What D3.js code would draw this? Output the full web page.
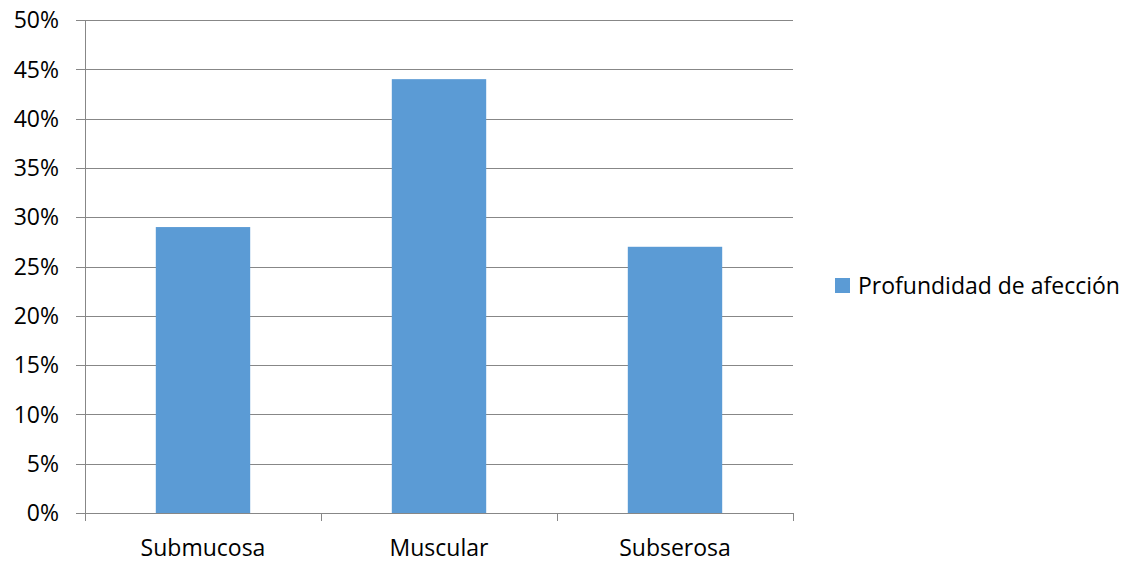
<!DOCTYPE html>
<html>
<head>
<meta charset="utf-8">
<script src="https://cdn.jsdelivr.net/npm/d3@7"></script>
<style>
  html, body { margin: 0; padding: 0; background: #fff; }
  svg { display: block; font-family: "Open Sans", "Noto Sans", sans-serif; }
</style>
</head>
<body>
<svg id="chart" width="1128" height="577"></svg>
<script>
// Depth of involvement by layer
const categories = ["Submucosa", "Muscular", "Subserosa"];
const values = [0.29, 0.44, 0.27];
const yTicks = [0, 0.05, 0.10, 0.15, 0.20, 0.25, 0.30, 0.35, 0.40, 0.45, 0.50];
const seriesName = "Profundidad de afección";

const svg = d3.select("#chart");
const plot = { left: 85, right: 793, top: 20, bottom: 513 };
const gridColor = "#878787";
const barColor = "#5B9BD5";
const fontSize = 23;

const x = d3.scaleBand()
  .domain(categories)
  .range([plot.left, plot.right])
  .paddingInner(0.6)
  .paddingOuter(0.3);

const y = d3.scaleLinear()
  .domain([0, 0.5])
  .range([plot.bottom, plot.top]);

// Horizontal gridlines with left tick marks
svg.append("g")
  .selectAll("line")
  .data(yTicks)
  .join("line")
  .attr("x1", plot.left - 9)
  .attr("x2", plot.right)
  .attr("y1", d => Math.round(y(d)) + 0.5)
  .attr("y2", d => Math.round(y(d)) + 0.5)
  .attr("stroke", gridColor)
  .attr("stroke-width", 1);

// Y tick labels
svg.append("g")
  .selectAll("text")
  .data(yTicks)
  .join("text")
  .attr("x", plot.left - 26)
  .attr("y", d => y(d))
  .attr("dy", "0.36em")
  .attr("text-anchor", "end")
  .attr("font-size", fontSize)
  .attr("fill", "#000")
  .text(d => d3.format(".0%")(d));

// Vertical axis line
svg.append("line")
  .attr("x1", plot.left + 0.5).attr("x2", plot.left + 0.5)
  .attr("y1", plot.top).attr("y2", plot.bottom + 8)
  .attr("stroke", gridColor);

// Category boundary ticks
const boundaries = [plot.left, ...categories.slice(1).map(c => x(c) - x.step() * x.paddingInner() / 2), plot.right];
svg.append("g")
  .selectAll("line")
  .data(boundaries.slice(1))
  .join("line")
  .attr("x1", d => Math.round(d) + 0.5)
  .attr("x2", d => Math.round(d) + 0.5)
  .attr("y1", plot.bottom)
  .attr("y2", plot.bottom + 8)
  .attr("stroke", gridColor);

// Bars
svg.append("g")
  .selectAll("rect")
  .data(categories.map((c, i) => ({ c, v: values[i] })))
  .join("rect")
  .attr("x", d => x(d.c))
  .attr("y", d => y(d.v))
  .attr("width", x.bandwidth())
  .attr("height", d => y(0) - y(d.v))
  .attr("fill", barColor);

// Category labels
svg.append("g")
  .selectAll("text")
  .data(categories)
  .join("text")
  .attr("x", d => x(d) + x.bandwidth() / 2)
  .attr("y", 556)
  .attr("text-anchor", "middle")
  .attr("font-size", fontSize)
  .attr("fill", "#000")
  .text(d => d);

// Legend
const legend = svg.append("g").attr("transform", "translate(835,278)");
legend.append("rect")
  .attr("width", 15).attr("height", 15)
  .attr("fill", barColor);
legend.append("text")
  .attr("x", 23)
  .attr("y", 7.5)
  .attr("dy", "0.36em")
  .attr("font-size", fontSize)
  .attr("fill", "#000")
  .text(seriesName);
</script>
</body>
</html>
